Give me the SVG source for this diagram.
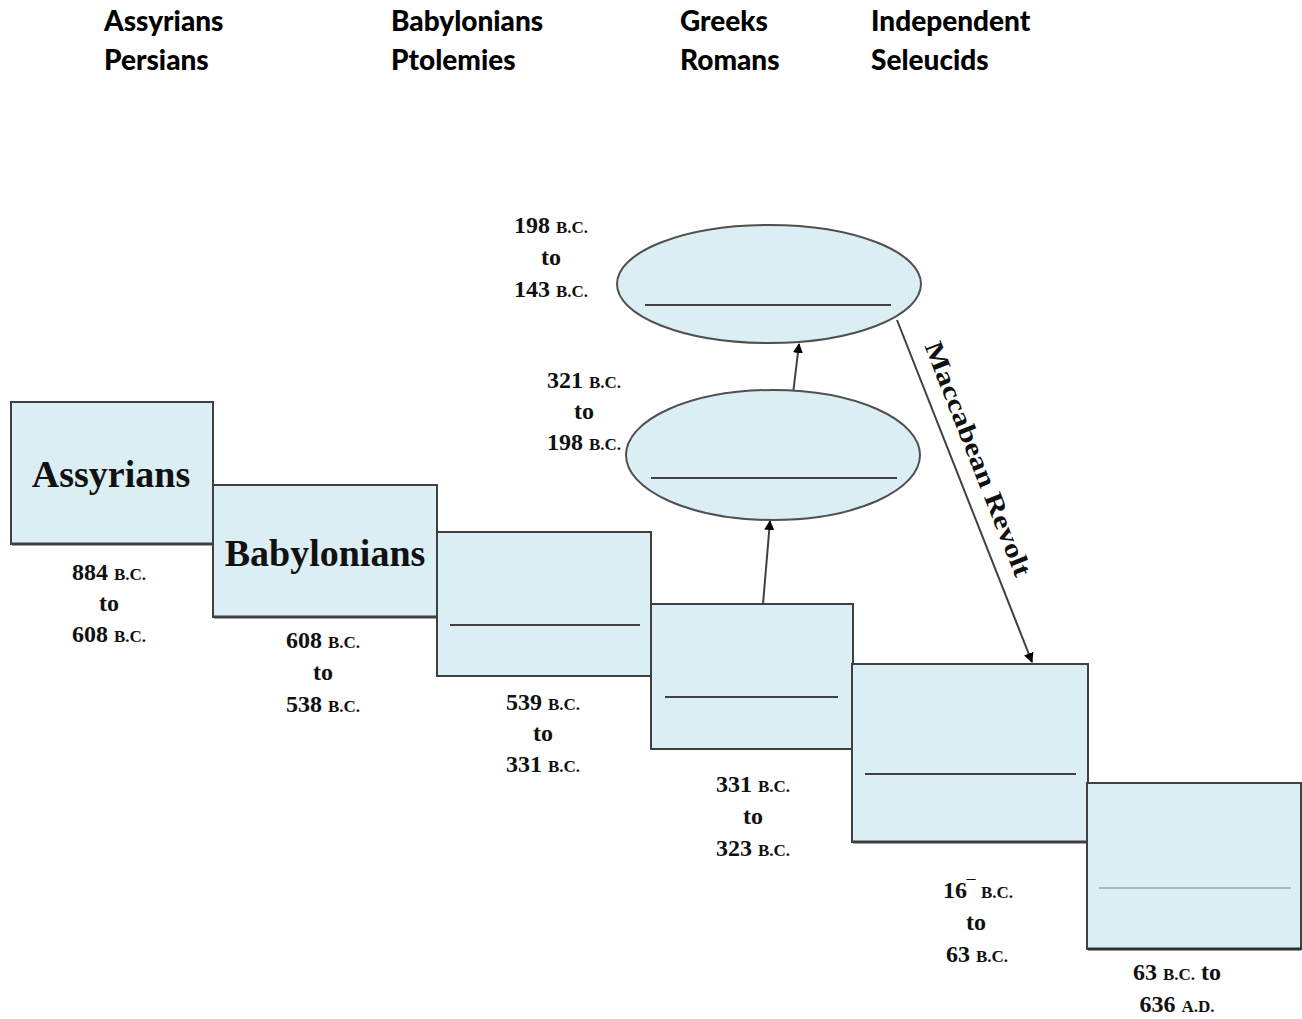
<svg xmlns="http://www.w3.org/2000/svg" width="1302" height="1019" viewBox="0 0 1302 1019">
<defs>
<style>
.box{fill:#dbeef4;stroke:#404040;stroke-width:2}
.ell{fill:#dbeef4;stroke:#505050;stroke-width:2}
.div{stroke:#404040;stroke-width:2}
.hdr{font-family:Lato,"Open Sans",sans-serif;font-weight:900;font-size:28px;fill:#000}
.big{font-family:"Liberation Serif",serif;font-weight:bold;font-size:38px;fill:#111;text-anchor:middle}
.dt{font-family:"Liberation Serif",serif;font-weight:bold;font-size:24px;fill:#111;text-anchor:middle}
.bc{font-size:17px}
.con{stroke:#404040;stroke-width:2;fill:none;marker-end:url(#ah)}
</style>
<marker id="ah" viewBox="0 0 10 10" refX="9" refY="5" markerWidth="5" markerHeight="5" orient="auto">
<path d="M0,0 L10,5 L0,10 z" fill="#000"/>
</marker>
</defs>
<rect width="1302" height="1019" fill="#fff"/>

<g id="legend">
<text class="hdr" x="104" y="31">Assyrians</text>
<text class="hdr" x="104" y="70">Persians</text>
<text class="hdr" x="391" y="31">Babylonians</text>
<text class="hdr" x="391" y="70">Ptolemies</text>
<text class="hdr" x="680" y="31">Greeks</text>
<text class="hdr" x="680" y="70">Romans</text>
<text class="hdr" x="871" y="31">Independent</text>
<text class="hdr" x="871" y="70">Seleucids</text>
</g>

<g id="connectors">
<line class="con" x1="763" y1="604" x2="770" y2="521"/>
<line class="con" x1="792" y1="402" x2="799" y2="344"/>
<line class="con" x1="897" y1="320" x2="1032" y2="662"/>
<text font-family="'Liberation Serif',serif" font-weight="bold" font-size="26" fill="#111" text-anchor="middle" transform="translate(970,462) rotate(68.5)" textLength="250" lengthAdjust="spacingAndGlyphs">Maccabean Revolt</text>
</g>

<g id="node-assyrians">
<rect class="box" x="11" y="402" width="202" height="142"/>
<line x1="12" y1="544" x2="213" y2="544" stroke="#404040" stroke-width="3"/>
<text class="big" x="111" y="487">Assyrians</text>
<text class="dt" x="109" y="580">884 <tspan class="bc">B.C.</tspan></text>
<text class="dt" x="109" y="611">to</text>
<text class="dt" x="109" y="642">608 <tspan class="bc">B.C.</tspan></text>
</g>

<g id="node-babylonians">
<rect class="box" x="213" y="485" width="224" height="132"/>
<line x1="214" y1="617" x2="437" y2="617" stroke="#404040" stroke-width="3"/>
<text class="big" x="325" y="566">Babylonians</text>
<text class="dt" x="323" y="648">608 <tspan class="bc">B.C.</tspan></text>
<text class="dt" x="323" y="680">to</text>
<text class="dt" x="323" y="712">538 <tspan class="bc">B.C.</tspan></text>
</g>

<g id="node-persians">
<rect class="box" x="437" y="532" width="214" height="144"/>
<line class="div" x1="450" y1="625" x2="640" y2="625" stroke-width="1.5"/>
<text class="dt" x="543" y="710">539 <tspan class="bc">B.C.</tspan></text>
<text class="dt" x="543" y="741">to</text>
<text class="dt" x="543" y="772">331 <tspan class="bc">B.C.</tspan></text>
</g>

<g id="node-greeks">
<rect class="box" x="651" y="604" width="202" height="145"/>
<line class="div" x1="665" y1="697" x2="838" y2="697" stroke-width="3"/>
<text class="dt" x="753" y="792">331 <tspan class="bc">B.C.</tspan></text>
<text class="dt" x="753" y="824">to</text>
<text class="dt" x="753" y="856">323 <tspan class="bc">B.C.</tspan></text>
</g>

<g id="node-ptolemies">
<ellipse class="ell" cx="773" cy="455" rx="147" ry="65"/>
<line class="div" x1="651" y1="478" x2="897" y2="478" stroke="#222" stroke-width="3"/>
<text class="dt" x="584" y="388">321 <tspan class="bc">B.C.</tspan></text>
<text class="dt" x="584" y="419">to</text>
<text class="dt" x="584" y="450">198 <tspan class="bc">B.C.</tspan></text>
</g>

<g id="node-seleucids">
<ellipse class="ell" cx="769" cy="284" rx="152" ry="59"/>
<line class="div" x1="645" y1="305" x2="891" y2="305" stroke-width="2.5"/>
<text class="dt" x="551" y="233">198 <tspan class="bc">B.C.</tspan></text>
<text class="dt" x="551" y="265">to</text>
<text class="dt" x="551" y="297">143 <tspan class="bc">B.C.</tspan></text>
</g>

<g id="node-independent">
<rect class="box" x="852" y="664" width="236" height="178"/>
<line x1="853" y1="842" x2="1088" y2="842" stroke="#404040" stroke-width="3"/>
<line class="div" x1="865" y1="774" x2="1076" y2="774" stroke-width="2"/>
<text class="dt" x="978" y="898">16‾ <tspan class="bc">B.C.</tspan></text>
<text class="dt" x="976" y="930">to</text>
<text class="dt" x="977" y="962">63 <tspan class="bc">B.C.</tspan></text>
</g>

<g id="node-romans">
<rect class="box" x="1087" y="783" width="214" height="166"/>
<line x1="1088" y1="949" x2="1301" y2="949" stroke="#303030" stroke-width="3"/>
<line x1="1099" y1="888" x2="1291" y2="888" stroke="#6a8a90" stroke-width="1"/>
<text class="dt" x="1177" y="980">63 <tspan class="bc">B.C.</tspan> to</text>
<text class="dt" x="1177" y="1012">636 <tspan class="bc">A.D.</tspan></text>
</g>
</svg>
